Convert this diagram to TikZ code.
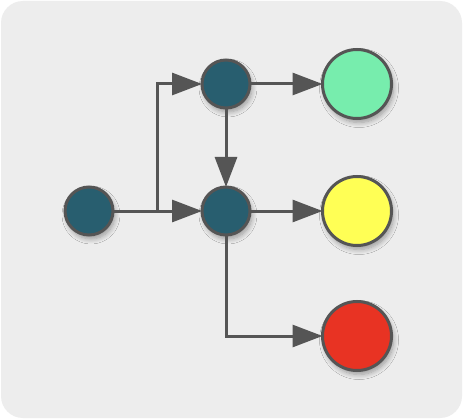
\documentclass[tikz,border=0pt]{standalone}
\usetikzlibrary{arrows.meta,shadows.blur}
\definecolor{bgc}{HTML}{EDEDED}
\definecolor{linec}{HTML}{555555}
\definecolor{tealc}{HTML}{285E6F}
\definecolor{greenc}{HTML}{77EDAD}
\definecolor{yellowc}{HTML}{FFFF55}
\definecolor{redc}{HTML}{E83323}
\begin{document}
\begin{tikzpicture}[x=1pt,y=-1pt,
  nd/.style={circle,draw=linec,line width=3pt,inner sep=0pt,outer sep=0pt,
    blur shadow={shadow xshift=2pt,shadow yshift=-4pt,shadow blur steps=8,shadow opacity=35,shadow blur radius=5pt}},
  small/.style={nd,fill=tealc,minimum size=48pt},
  big/.style={nd,minimum size=69pt},
  conn/.style={draw=linec,line width=3pt,-{Triangle[length=30pt,width=22pt]}}]
\useasboundingbox (0,0) rectangle (464,420);
\fill[white] (0,0) rectangle (464,420);
\path[fill=bgc,rounded corners=22pt] (1,1) rectangle (462,418);
\node[small] (A) at (89,211) {};
\node[small] (B) at (226,84) {};
\node[small] (C) at (226,211) {};
\node[big,fill=greenc] (G) at (357,84) {};
\node[big,fill=yellowc] (Y) at (357,211) {};
\node[big,fill=redc] (R) at (357,336) {};
\coordinate (j) at (157,211);
\draw[conn] (A) -- (C);
\draw[conn] (j) |- (B);
\draw[conn] (B) -- (C);
\draw[conn] (B) -- (G);
\draw[conn] (C) -- (Y);
\draw[conn] (C) |- (R);
\end{tikzpicture}
\end{document}
